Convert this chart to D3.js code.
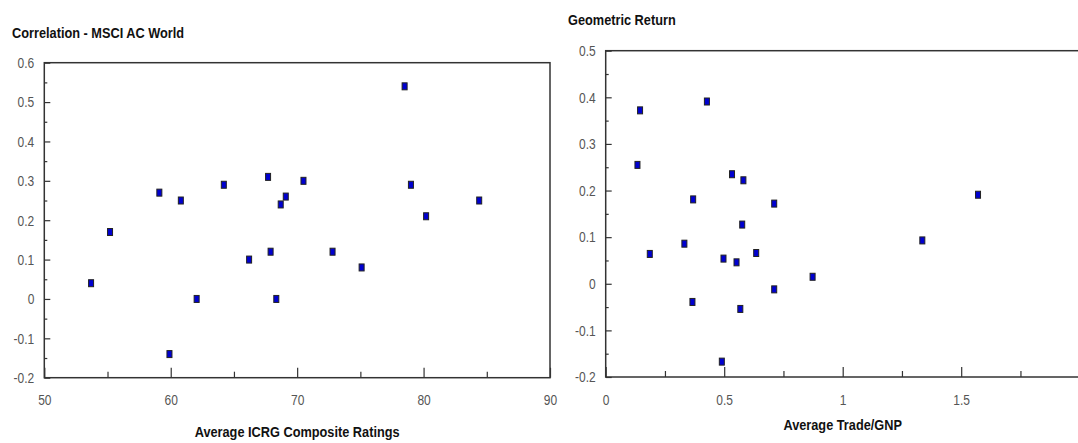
<!DOCTYPE html>
<html>
<head>
<meta charset="utf-8">
<script src="https://cdn.jsdelivr.net/npm/d3@7"></script>
<style>
  body { margin: 0; background: #fff; }
  svg text { font-family: "Liberation Sans", Arial, sans-serif; }
</style>
</head>
<body>
<svg id="chart" width="1078" height="443"></svg>
<script>
// left panel: ICRG rating vs correlation
var icrgRating = [78.5, 67.7, 70.5, 64.2, 79.0, 59.1, 69.1, 60.8, 84.4, 68.7,
                  80.2, 55.2, 67.9, 72.8, 66.2, 75.1, 53.7, 62.05, 68.35, 59.9];
var correlation = [0.54, 0.31, 0.30, 0.29, 0.29, 0.27, 0.26, 0.25, 0.25, 0.24,
                   0.21, 0.17, 0.12, 0.12, 0.10, 0.08, 0.04, 0.0, 0.0, -0.14];

// right panel: trade/GNP vs geometric return
var tradeGnp = [0.145, 0.427, 0.134, 0.369, 0.533, 0.581, 0.711, 0.576, 0.186, 0.332,
                0.497, 0.552, 0.635, 0.711, 0.873, 0.366, 0.568, 0.490, 1.336, 1.571];
var geoReturn = [0.372, 0.391, 0.255, 0.181, 0.235, 0.222, 0.172, 0.127, 0.064, 0.086,
                 0.054, 0.046, 0.066, -0.012, 0.015, -0.039, -0.054, -0.167, 0.093, 0.191];

// tick values
var leftXMajor = [50, 60, 70, 80, 90];
var leftXMinor = [55, 65, 75, 85];
var leftYMajor = [-0.2, -0.1, 0, 0.1, 0.2, 0.3, 0.4, 0.5, 0.6];
var leftYMinor = [-0.15, -0.05, 0.05, 0.15, 0.25, 0.35, 0.45, 0.55];
var rightXMajor = [0, 0.5, 1, 1.5];
var rightXMinor = [0.25, 0.75, 1.25, 1.75];
var rightYMajor = [-0.2, -0.1, 0, 0.1, 0.2, 0.3, 0.4, 0.5];
var rightYMinor = [-0.15, -0.05, 0.05, 0.15, 0.25, 0.35, 0.45];

var svg = d3.select("#chart");
svg.append("rect").attr("width", 1078).attr("height", 443).attr("fill", "#fff");

var fmt = function(d) { return String(+d.toFixed(2)); };

// no narrow font installed, so squeeze the text horizontally
function narrow(sel, k) {
	sel.each(function() {
		var len = this.getComputedTextLength();
		if (len > 0)
			d3.select(this).attr("textLength", len * k).attr("lengthAdjust", "spacingAndGlyphs");
	});
}

function panel(cfg) {
	var x = d3.scaleLinear().domain(cfg.xDomain).range([cfg.left, cfg.right]);
	var y = d3.scaleLinear().domain(cfg.yDomain).range([cfg.bottom, cfg.top]);
	var g = svg.append("g");

	// frame
	g.append("rect")
		.attr("x", cfg.left).attr("y", cfg.top)
		.attr("width", cfg.right - cfg.left)
		.attr("height", cfg.bottom - cfg.top)
		.attr("fill", "none")
		.attr("stroke", "#333")
		.attr("stroke-width", 1.5);

	// y axis: major + minor ticks pointing inward
	g.append("g").attr("transform", "translate(" + cfg.left + ",0)")
		.call(d3.axisLeft(y).tickValues(cfg.yMajor).tickSize(-6).tickPadding(10).tickFormat(fmt));
	g.append("g").attr("transform", "translate(" + cfg.left + ",0)")
		.call(d3.axisLeft(y).tickValues(cfg.yMinor).tickSize(-3).tickFormat(""));

	g.append("g").attr("transform", "translate(0," + cfg.bottom + ")")
		.call(d3.axisBottom(x).tickValues(cfg.xMajor).tickSize(-10).tickPadding(17).tickFormat(fmt));
	g.append("g").attr("transform", "translate(0," + cfg.bottom + ")")
		.call(d3.axisBottom(x).tickValues(cfg.xMinor).tickSize(-6).tickFormat(""));

	g.selectAll(".domain").remove();
	g.selectAll(".tick line").attr("stroke", "#333").attr("stroke-width", 1.2);
	g.selectAll(".tick text")
		.attr("fill", "#555")
		.style("font-family", "'Liberation Sans', Arial, sans-serif")
		.style("font-size", "15px")
		.call(narrow, 0.8);

	// titles
	g.append("text")
		.attr("x", cfg.titleX).attr("y", cfg.titleY)
		.attr("font-weight", "bold").style("font-size", "15px")
		.attr("fill", "#111")
		.text(cfg.title)
		.call(narrow, 0.85);
	g.append("text")
		.attr("x", x((cfg.xDomain[0] + cfg.xDomain[1]) / 2)).attr("y", cfg.xTitleY)
		.attr("text-anchor", "middle")
		.attr("font-weight", "bold").style("font-size", "15px")
		.attr("fill", "#111")
		.text(cfg.xTitle)
		.call(narrow, 0.85);

	// points
	g.selectAll(".pt")
		.data(cfg.xs)
		.enter()
		.append("rect")
		.attr("class", "pt")
		.attr("x", function(d) { return x(d) - 2.5; })
		.attr("y", function(d, i) { return y(cfg.ys[i]) - 3.5; })
		.attr("width", 5)
		.attr("height", 7)
		.attr("fill", "#0000d0")
		.attr("stroke", "#222")
		.attr("stroke-width", 1);
}

panel({
	xs: icrgRating, ys: correlation,
	xDomain: [50, 90], yDomain: [-0.2, 0.6],
	left: 44.3, right: 550, top: 62.7, bottom: 377.7,
	xMajor: leftXMajor, xMinor: leftXMinor, yMajor: leftYMajor, yMinor: leftYMinor,
	title: "Correlation - MSCI AC World", titleX: 12, titleY: 38,
	xTitle: "Average ICRG Composite Ratings", xTitleY: 437
});

panel({
	xs: tradeGnp, ys: geoReturn,
	xDomain: [0, 2], yDomain: [-0.2, 0.5],
	left: 605.7, right: 1079.7, top: 50.7, bottom: 377,
	xMajor: rightXMajor, xMinor: rightXMinor, yMajor: rightYMajor, yMinor: rightYMinor,
	title: "Geometric Return", titleX: 568, titleY: 25,
	xTitle: "Average Trade/GNP", xTitleY: 430
});
</script>
</body>
</html>
